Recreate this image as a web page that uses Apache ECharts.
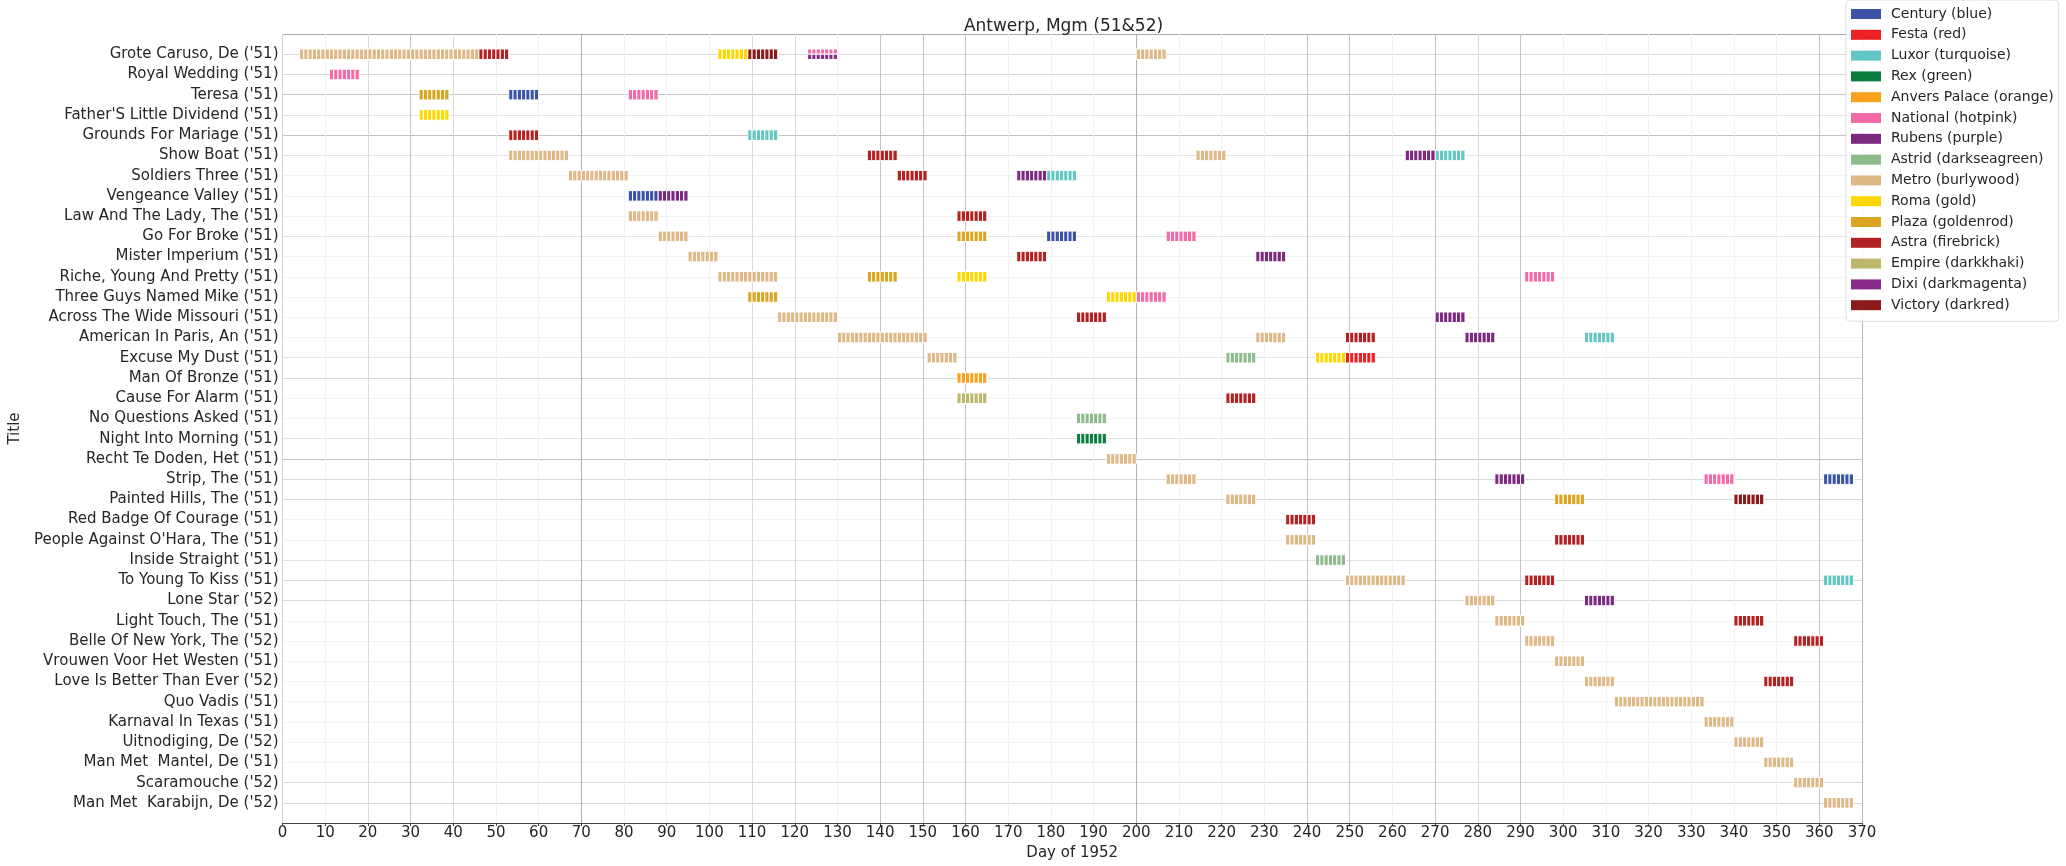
<!DOCTYPE html>
<html>
<head>
<meta charset="utf-8">
<script src="https://cdn.jsdelivr.net/npm/echarts@6/dist/echarts.min.js"></script>
<style>
html,body{margin:0;padding:0;background:#fff;}
#chart{width:2066px;height:866px;}
</style>
</head>
<body>
<div id="chart"></div>
<script>
// Film titles (row order, top to bottom)
const titles = [
  "Grote Caruso, De ('51)", "Royal Wedding ('51)", "Teresa ('51)", "Father'S Little Dividend ('51)",
  "Grounds For Mariage ('51)", "Show Boat ('51)", "Soldiers Three ('51)", "Vengeance Valley ('51)",
  "Law And The Lady, The ('51)", "Go For Broke ('51)", "Mister Imperium ('51)", "Riche, Young And Pretty ('51)",
  "Three Guys Named Mike ('51)", "Across The Wide Missouri ('51)", "American In Paris, An ('51)", "Excuse My Dust ('51)",
  "Man Of Bronze ('51)", "Cause For Alarm ('51)", "No Questions Asked ('51)", "Night Into Morning ('51)",
  "Recht Te Doden, Het ('51)", "Strip, The ('51)", "Painted Hills, The ('51)", "Red Badge Of Courage ('51)",
  "People Against O'Hara, The ('51)", "Inside Straight ('51)", "To Young To Kiss ('51)", "Lone Star ('52)",
  "Light Touch, The ('51)", "Belle Of New York, The ('52)", "Vrouwen Voor Het Westen ('51)", "Love Is Better Than Ever ('52)",
  "Quo Vadis ('51)", "Karnaval In Texas ('51)", "Uitnodiging, De ('52)", "Man Met  Mantel, De ('51)",
  "Scaramouche ('52)", "Man Met  Karabijn, De ('52)"
];

// Cinemas (legend order)
const cinemas = [
  "Century (blue)", "Festa (red)", "Luxor (turquoise)", "Rex (green)", "Anvers Palace (orange)",
  "National (hotpink)", "Rubens (purple)", "Astrid (darkseagreen)", "Metro (burlywood)", "Roma (gold)",
  "Plaza (goldenrod)", "Astra (firebrick)", "Empire (darkkhaki)", "Dixi (darkmagenta)", "Victory (darkred)"
];
const cinemaColors = [
  "#3a53a4", "#ed2024", "#62c6c2", "#0b7e3e", "#f7a11d",
  "#f06ba8", "#7b2a80", "#8dbb8b", "#deb887", "#fdd800",
  "#daa520", "#b22222", "#bdb76b", "#892a8b", "#8b1a1a"
];

// Showings per cinema: [titleRow, firstDay, endDay(exclusive), lane(0 full,1 top half,2 bottom half)]
const century = [[2,53,60],[7,81,88],[9,179,186],[21,361,368]];
const festa = [[15,249,256]];
const luxor = [[4,109,116],[6,179,186],[5,270,277],[14,305,312],[26,361,368]];
const rex = [[19,186,193]];
const anversPalace = [[16,158,165]];
const national = [[1,11,18],[2,81,88],[0,123,130,1],[12,200,207],[9,207,214],[11,291,298],[21,333,340]];
const rubens = [[7,88,95],[6,172,179],[10,228,235],[5,263,270],[13,270,277],[14,277,284],[21,284,291],[27,305,312]];
const astrid = [[18,186,193],[15,221,228],[25,242,249]];
const metro = [[0,4,46],[0,200,207],[5,53,67],[5,214,221],[6,67,81],[8,81,88],[9,88,95],[10,95,102],
  [11,102,116],[13,116,130],[14,130,151],[14,228,235],[15,151,158],[20,193,200],[21,207,214],[22,221,228],
  [24,235,242],[26,249,263],[27,277,284],[28,284,291],[29,291,298],[30,298,305],[31,305,312],[32,312,333],
  [33,333,340],[34,340,347],[35,347,354],[36,354,361],[37,361,368]];
const roma = [[3,32,39],[0,102,109],[11,158,165],[12,193,200],[15,242,249]];
const plaza = [[2,32,39],[12,109,116],[11,137,144],[9,158,165],[22,298,305]];
const astra = [[0,46,53],[4,53,60],[5,137,144],[6,144,151],[8,158,165],[10,172,179],[13,186,193],[17,221,228],
  [23,235,242],[14,249,256],[26,291,298],[24,298,305],[28,340,347],[31,347,354],[29,354,361]];
const empire = [[17,158,165]];
const dixi = [[0,123,130,2]];
const victory = [[0,109,116],[22,340,347]];

const showings = [century, festa, luxor, rex, anversPalace, national, rubens, astrid, metro, roma, plaza, astra, empire, dixi, victory];

// x tick labels: 0..370 every 10
const xTicks = [];
for (let v = 0; v <= 370; v += 10) xTicks.push(v);

// gridline shades (mimic reference rendering)
const F = '#f2f2f2', L = '#d9d9d9', M = '#c4c4c4', D = '#b0b0b0', T = '#e3e3e3';
const xGridColors = ['#d4d4d4', F, L, M, L, F, F, D, F, F, F, L, L, F, M, M, M, F, F, F, D, F, F, F, M, M, F, M, L, M, F, F, F, F, F, F, M, '#b8b8b8'];
const yGridColors = ['#a8a8a8', L, L, M, T, M, T, F, F, F, T, F, F, F, F, F, T, L, F, F, T, M, L, L, F, F, T, L, L, F, F, F, F, F, F, F, F, L, L, '#444'];

const FONT = 'DejaVu Sans';
const GRID_L = 255, GRID_R = 2066 - 1862;

function renderItem(params, api) {
  const s = api.value(0), e = api.value(1), row = api.value(2), lane = api.value(3);
  const dayW = api.size([1, 0])[0];
  const rowH = api.size([0, 1])[1];
  const h = rowH * 0.52;
  const c = api.coord([s, row]);
  let y0 = c[1] - h / 2, hh = h;
  if (lane === 1) { hh = h / 2; }
  else if (lane === 2) { y0 = c[1]; hh = h / 2; }
  const color = api.visual('color');
  const children = [];
  for (let d = s; d < e; d++) {
    const x = api.coord([d, row])[0];
    children.push({
      type: 'rect',
      shape: { x: x, y: y0, width: dayW, height: hh },
      style: { fill: color, stroke: '#ffffff', lineWidth: 1 }
    });
  }
  return { type: 'group', children: children };
}

const series = cinemas.map((name, i) => ({
  name: name,
  type: 'custom',
  renderItem: renderItem,
  itemStyle: { color: cinemaColors[i] },
  encode: { x: [0, 1], y: 2 },
  data: showings[i].map(r => [r[1], r[2], r[0], r[3] || 0]),
  clip: true,
  z: 3
}));

const chart = echarts.init(document.getElementById('chart'), null, { renderer: 'canvas' });
chart.setOption({
  animation: false,
  backgroundColor: '#ffffff',
  textStyle: { fontFamily: FONT },
  title: {
    text: 'Antwerp, Mgm (51&52)',
    left: (GRID_L + (2066 - GRID_R)) / 2,
    textAlign: 'center',
    top: 13,
    textStyle: { fontFamily: FONT, fontSize: 17, fontWeight: 'normal', color: '#262626' }
  },
  legend: {
    orient: 'vertical',
    left: 1846,
    top: 0,
    padding: [6, 5, 8, 5],
    itemWidth: 30,
    itemHeight: 10,
    itemGap: 4.8,
    icon: 'rect',
    backgroundColor: 'rgba(255,255,255,0.85)',
    borderColor: '#dddddd',
    borderWidth: 1,
    borderRadius: 4,
    selectedMode: false,
    textStyle: { fontFamily: FONT, fontSize: 14, color: '#262626', lineHeight: 16, padding: [0, 0, 0, 5] },
    data: cinemas
  },
  grid: { left: GRID_L, right: GRID_R, top: 34, bottom: 34, containLabel: false },
  xAxis: {
    type: 'value',
    min: xTicks[0],
    max: xTicks[xTicks.length - 1],
    interval: 10,
    name: 'Day of 1952',
    nameLocation: 'middle',
    nameGap: 16,
    nameTextStyle: { fontFamily: FONT, fontSize: 15, color: '#262626' },
    axisLine: { show: true, onZero: false, lineStyle: { color: '#444444', width: 1 } },
    axisTick: { show: true, length: 3, lineStyle: { color: '#444444' } },
    axisLabel: { fontFamily: FONT, fontSize: 15, color: '#262626', margin: 3 },
    splitLine: { show: true, showMinLine: true, showMaxLine: true, lineStyle: { color: xGridColors, width: 1 } }
  },
  yAxis: {
    type: 'value',
    inverse: true,
    min: -1,
    max: titles.length,
    interval: 1,
    name: 'Title',
    nameLocation: 'middle',
    nameRotate: 90,
    nameGap: 239,
    nameTextStyle: { fontFamily: FONT, fontSize: 15, color: '#262626' },
    axisLine: { show: false, onZero: false },
    axisTick: { show: false },
    axisLabel: {
      fontFamily: FONT, fontSize: 15, color: '#262626', margin: 4, hideOverlap: false,
      formatter: v => (titles[v] !== undefined ? titles[v] : '')
    },
    splitLine: { show: true, showMinLine: true, showMaxLine: true, lineStyle: { color: yGridColors, width: 1 } }
  },
  series: series
});
</script>
</body>
</html>
